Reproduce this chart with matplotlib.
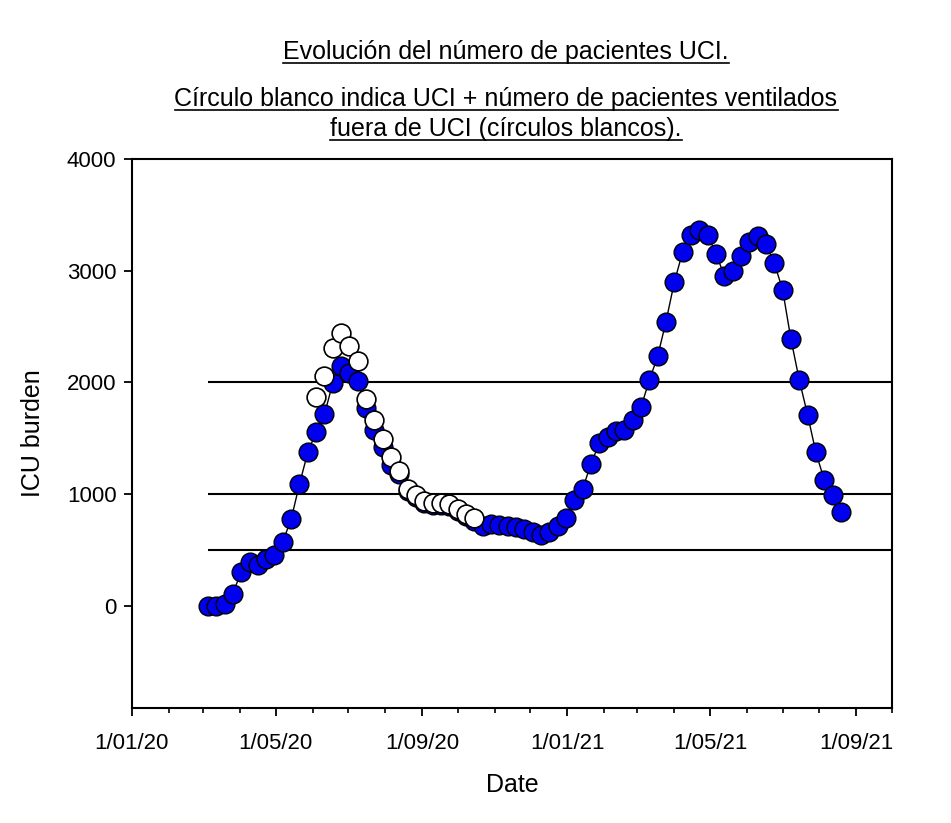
import numpy as np
import pandas as pd
import matplotlib
matplotlib.use("Agg")
import matplotlib.pyplot as plt
import matplotlib.dates as mdates
from matplotlib.ticker import FuncFormatter
from matplotlib.lines import Line2D

plt.rcParams['font.family'] = ['Liberation Sans', 'DejaVu Sans']

## weekly ICU counts, first value on 5 March 2020
start = "2020-03-05"
icu = [0, 0, 20, 110, 305, 395, 365, 415, 455, 575,
       775, 1090, 1375, 1555, 1715, 1995, 2145, 2085, 2010, 1770,
       1575, 1425, 1262, 1180, 1030, 975, 920, 905, 900, 890,
       850, 800, 760, 716, 734, 725, 716, 704, 686, 665,
       635, 665, 716, 785, 949, 1050, 1270, 1457, 1511, 1561,
       1576, 1660, 1779, 2018, 2233, 2544, 2896, 3168, 3323, 3368,
       3323, 3153, 2956, 2995, 3136, 3255, 3314, 3240, 3070, 2831,
       2389, 2024, 1711, 1373, 1128, 994, 839]

# UCI + ventilated outside UCI (white circles), starts at week index 13
white_first = 13
icu_plus_vent = [1870, 2060, 2308, 2443, 2323, 2188, 1851, 1660, 1493, 1332,
                 1211, 1050, 990, 934, 919, 919, 910, 866, 821, 785]

thresholds = [500, 1000, 2000]

title1 = "Evolución del número de pacientes UCI."
title2 = "Círculo blanco indica UCI + número de pacientes ventilados"
title3 = "fuera de UCI (círculos blancos)."

dates = pd.date_range(start, periods=len(icu), freq="7D")
white_dates = dates[white_first:white_first + len(icu_plus_vent)]

x0 = pd.Timestamp("2020-01-01")
x1 = pd.Timestamp("2021-10-01")

fig = plt.figure(figsize=(9.51, 8.23), dpi=100)
ax = fig.add_axes([0.1385, 0.1397, 0.7995, 0.6671])

ax.hlines(thresholds, dates[0], x1, color='k', lw=1.5, zorder=1)
ax.plot(dates, icu, color='k', lw=1, zorder=2)
ax.plot(dates, icu, 'o', ms=13.5, mfc='#0000ee', mec='k', mew=1.0, zorder=3)
ax.plot(white_dates, icu_plus_vent, 'o', ms=13.5, mfc='white', mec='k', mew=1.2, zorder=4)

ax.set_xlim(x0, x1)
ax.set_ylim(-915, 4000)
ax.set_yticks([0, 1000, 2000, 3000, 4000])

ax.xaxis.set_major_locator(mdates.MonthLocator(bymonth=[1, 5, 9]))
ax.xaxis.set_minor_locator(mdates.MonthLocator())
def fmt(v, pos):
    d = mdates.num2date(v)
    return "%d/%02d/%02d" % (d.day, d.month, d.year % 100)
ax.xaxis.set_major_formatter(FuncFormatter(fmt))

for s in ax.spines.values():
    s.set_linewidth(1.5)
ax.tick_params(axis='both', which='major', direction='out', length=6, width=1.3,
               labelsize=16)
ax.tick_params(axis='x', which='major', pad=12)
ax.tick_params(axis='y', which='major', pad=5)
ax.tick_params(axis='x', which='minor', direction='out', length=3.5, width=1.2)

ax.set_xlabel("Date", fontsize=18, labelpad=14)
ax.set_ylabel("ICU burden", fontsize=18, labelpad=16)

## titles, underlined by hand
H = 823.0
cx = 506 / 951.0
titles = []
for txt, base in [(title1, 59), (title2, 106), (title3, 136)]:
    t = fig.text(cx, 1 - base / H, txt, ha='center', va='baseline', fontsize=18)
    titles.append((t, base))

fig.canvas.draw()
r = fig.canvas.get_renderer()
for t, base in titles:
    bb = t.get_window_extent(r)
    yl = 1 - (base + 4) / H
    fig.add_artist(Line2D([bb.x0 / 951.0, bb.x1 / 951.0], [yl, yl],
                          transform=fig.transFigure, color='k', lw=1.2))

fig.savefig("out.png", dpi=100)
